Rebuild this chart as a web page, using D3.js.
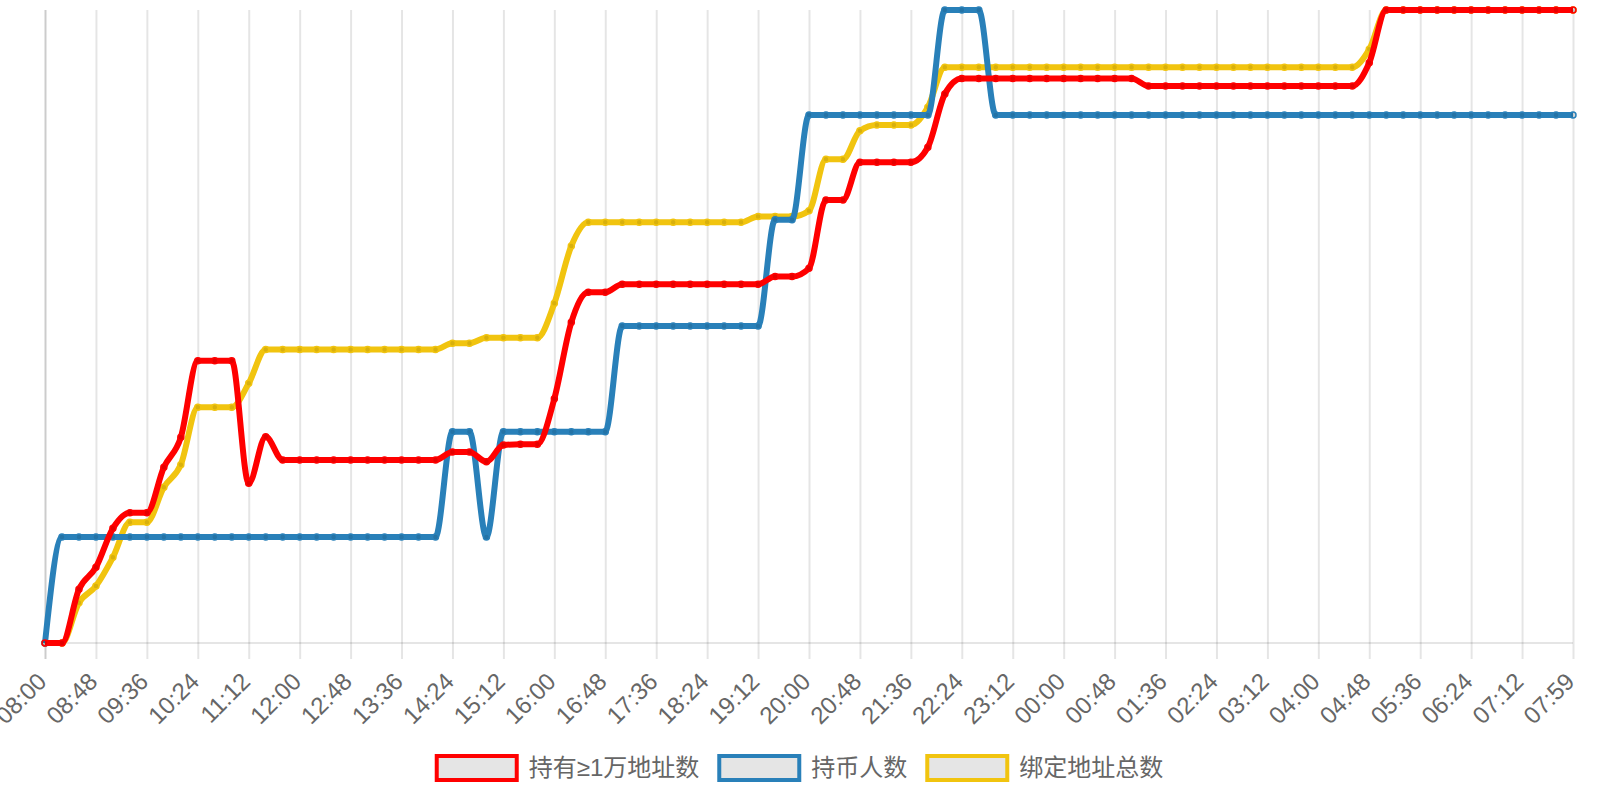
<!DOCTYPE html>
<html>
<head>
<meta charset="utf-8">
<script src="https://cdn.jsdelivr.net/npm/d3@7/dist/d3.min.js"></script>
<style>
  html, body { margin: 0; padding: 0; background: #ffffff; }
  svg { display: block; }
  text { font-family: 'Liberation Sans', 'Noto Sans CJK SC', sans-serif; }
</style>
</head>
<body>
<svg id="chart" width="1600" height="800"></svg>
<script>
// ---- data ----
const times = [
  "08:00","08:16","08:32","08:48","09:04","09:20","09:36","09:52","10:08","10:24",
  "10:40","10:56","11:12","11:28","11:44","12:00","12:16","12:32","12:48","13:04",
  "13:20","13:36","13:52","14:08","14:24","14:40","14:56","15:12","15:28","15:44",
  "16:00","16:16","16:32","16:48","17:04","17:20","17:36","17:52","18:08","18:24",
  "18:40","18:56","19:12","19:28","19:44","20:00","20:16","20:32","20:48","21:04",
  "21:20","21:36","21:52","22:08","22:24","22:40","22:56","23:12","23:28","23:44",
  "00:00","00:16","00:32","00:48","01:04","01:20","01:36","01:52","02:08","02:24",
  "02:40","02:56","03:12","03:28","03:44","04:00","04:16","04:32","04:48","05:04",
  "05:20","05:36","05:52","06:08","06:24","06:40","06:56","07:12","07:28","07:44",
  "07:59"
];
const tickLabels = [
  "08:00","08:48","09:36","10:24","11:12","12:00","12:48","13:36","14:24","15:12",
  "16:00","16:48","17:36","18:24","19:12","20:00","20:48","21:36","22:24","23:12",
  "00:00","00:48","01:36","02:24","03:12","04:00","04:48","05:36","06:24","07:12",
  "07:59"
];
const seriesNames = ["持有≥1万地址数", "持币人数", "绑定地址总数"];
const seriesColors = ["#ff0000", "#2980b9", "#f1c40f"];

// values (relative scale, top of chart = 633)
const holders10k = [
  0, 0, 53.7, 75.7, 114.7, 130.3, 130.3, 175.7, 205.7, 282.3,
  282.3, 282.3, 159.7, 206.3, 183, 183, 183, 183, 183, 183,
  183, 183, 183, 183, 191, 191, 181.3, 198, 198.7, 198.7,
  244.3, 320.7, 350.7, 350.7, 358.7, 358.7, 358.7, 358.7, 358.7, 358.7,
  358.7, 358.7, 358.7, 366.5, 366.5, 374.7, 443, 443, 480.7, 480.7,
  480.7, 480.7, 495.7, 549, 564.5, 564.5, 564.5, 564.5, 564.5, 564.5,
  564.5, 564.5, 564.5, 564.5, 564.5, 557, 557, 557, 557, 557,
  557, 557, 557, 557, 557, 557, 557, 557, 580.3, 633,
  633, 633, 633, 633, 633, 633, 633, 633, 633, 633,
  633
];
const holders = [
  0, 106, 106, 106, 106, 106, 106, 106, 106, 106,
  106, 106, 106, 106, 106, 106, 106, 106, 106, 106,
  106, 106, 106, 106, 211.3, 211.3, 106, 211.3, 211.3, 211.3,
  211.3, 211.3, 211.3, 211.3, 317, 317, 317, 317, 317, 317,
  317, 317, 317, 423.3, 423.3, 528, 528, 528, 528, 528,
  528, 528, 528, 633, 633, 633, 528, 528, 528, 528,
  528, 528, 528, 528, 528, 528, 528, 528, 528, 528,
  528, 528, 528, 528, 528, 528, 528, 528, 528, 528,
  528, 528, 528, 528, 528, 528, 528, 528, 528, 528,
  528
];
const boundAddresses = [
  0, 0, 40.3, 57, 85.7, 120.7, 120.7, 155.7, 178.3, 235.7,
  235.7, 235.7, 259.7, 293.5, 293.5, 293.5, 293.5, 293.5, 293.5, 293.5,
  293.5, 293.5, 293.5, 293.5, 299.7, 299.7, 305.3, 305.3, 305.3, 305.3,
  339.7, 397, 420.7, 420.7, 420.7, 420.7, 420.7, 420.7, 420.7, 420.7,
  420.7, 420.7, 426.5, 426.5, 426.5, 432.3, 483.7, 483.7, 512.3, 518,
  518, 518, 535.7, 575.7, 575.7, 575.7, 575.7, 575.7, 575.7, 575.7,
  575.7, 575.7, 575.7, 575.7, 575.7, 575.7, 575.7, 575.7, 575.7, 575.7,
  575.7, 575.7, 575.7, 575.7, 575.7, 575.7, 575.7, 575.7, 593.7, 633,
  633, 633, 633, 633, 633, 633, 633, 633, 633, 633,
  633
];
const seriesValues = [holders10k, holders, boundAddresses];

// ---- layout ----
const area = { left: 45, right: 1573, top: 10, bottom: 643 };
const svg = d3.select("#chart");

const x = d3.scalePoint().domain(times).range([area.left, area.right]);
const y = d3.scaleLinear().domain([0, 633]).range([area.bottom, area.top]);

// ---- grid / axis ----
const xAxis = d3.axisBottom(x)
  .tickValues(tickLabels)
  .tickSize(-(area.bottom - area.top))
  .tickSizeOuter(0)
  .tickPadding(0)
  .tickFormat("");
const gridG = svg.append("g")
  .attr("transform", `translate(0,${area.bottom})`)
  .call(xAxis);
gridG.select(".domain").remove();
gridG.selectAll(".tick line")
  .attr("y1", 16)
  .attr("y2", -(area.bottom - area.top))
  .attr("stroke", (d, i) => i === 0 ? "rgba(0,0,0,0.2)" : "rgba(0,0,0,0.1)")
  .attr("stroke-width", 2);

// baseline
svg.append("line")
  .attr("x1", x(times[0])).attr("x2", x(times[times.length - 1]))
  .attr("y1", y(0)).attr("y2", y(0))
  .attr("stroke", "rgba(0,0,0,0.1)")
  .attr("stroke-width", 2);

// tick labels
svg.append("g").selectAll("text")
  .data(tickLabels)
  .join("text")
  .attr("transform", d => `translate(${x(d) - 3},677) rotate(-45)`)
  .attr("text-anchor", "end")
  .attr("dy", "0.35em")
  .attr("font-size", 24)
  .attr("fill", "#666")
  .text(d => d);

// ---- lines ----
const line = d3.line()
  .x((d, i) => x(times[i]))
  .y(d => y(d))
  .curve(d3.curveMonotoneX);

const order = [2, 1, 0];
order.forEach(s => {
  const g = svg.append("g");
  g.append("path")
    .datum(seriesValues[s])
    .attr("d", line)
    .attr("fill", "none")
    .attr("stroke", seriesColors[s])
    .attr("stroke-width", 6)
    .attr("stroke-linejoin", "round");
  g.selectAll("circle")
    .data(seriesValues[s])
    .join("circle")
    .attr("cx", (d, i) => x(times[i]))
    .attr("cy", d => y(d))
    .attr("r", 3)
    .attr("fill", "rgba(0,0,0,0.1)")
    .attr("stroke", seriesColors[s])
    .attr("stroke-width", 1.5);
});

// ---- legend ----
const legend = svg.append("g");
const items = legend.selectAll("g")
  .data(seriesNames)
  .join("g");
items.append("rect")
  .attr("x", 0).attr("y", 756)
  .attr("width", 80).attr("height", 24)
  .attr("fill", "rgba(0,0,0,0.1)")
  .attr("stroke", (d, i) => seriesColors[i])
  .attr("stroke-width", 4);
items.append("text")
  .attr("x", 92).attr("y", 768)
  .attr("dy", "0.35em")
  .attr("font-size", 24)
  .attr("fill", "#666")
  .text(d => d);
const widths = [];
items.each(function () {
  widths.push(92 + d3.select(this).select("text").node().getComputedTextLength());
});
const gap = 20;
const total = d3.sum(widths) + gap * (widths.length - 1);
let cur = 800 - total / 2;
items.attr("transform", (d, i) => {
  const tx = cur;
  cur += widths[i] + gap;
  return `translate(${tx},0)`;
});
</script>
</body>
</html>
